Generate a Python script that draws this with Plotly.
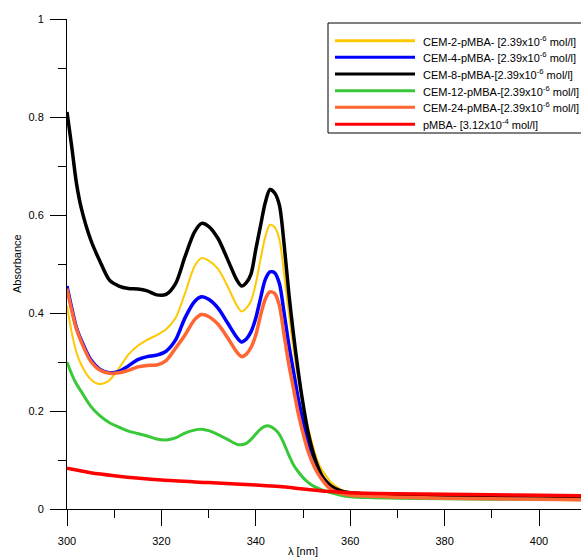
import plotly.graph_objects as go

wavelength = [300, 301, 302, 303, 305, 307, 309, 311, 313, 315, 317, 319, 321, 323, 325, 327, 328.5,
              330, 332, 334, 336, 337, 338, 339, 340, 341, 342, 343, 344, 345, 346, 347, 348, 349,
              350, 351, 352, 353, 354, 355, 356, 358, 360, 365, 370, 380, 390, 400, 409]

cem2 = [0.415, 0.36, 0.32, 0.295, 0.265, 0.255, 0.263, 0.287, 0.315, 0.333, 0.345, 0.355, 0.367, 0.39,
        0.44, 0.495, 0.512, 0.507, 0.49, 0.455, 0.415, 0.403, 0.41, 0.425, 0.46, 0.51, 0.555, 0.58,
        0.575, 0.55, 0.48, 0.40, 0.325, 0.265, 0.215, 0.17, 0.132, 0.10, 0.08, 0.066, 0.054, 0.04,
        0.033, 0.029, 0.027, 0.025, 0.024, 0.023, 0.022]
cem4 = [0.455, 0.41, 0.37, 0.345, 0.305, 0.285, 0.278, 0.281, 0.292, 0.305, 0.311, 0.314, 0.322, 0.345,
        0.39, 0.423, 0.433, 0.428, 0.41, 0.38, 0.35, 0.341, 0.347, 0.362, 0.39, 0.43, 0.468, 0.484,
        0.482, 0.46, 0.40, 0.335, 0.28, 0.225, 0.18, 0.14, 0.11, 0.085, 0.067, 0.055, 0.046, 0.036,
        0.032, 0.029, 0.027, 0.025, 0.023, 0.022, 0.021]
cem8 = [0.81, 0.74, 0.665, 0.615, 0.55, 0.505, 0.467, 0.455, 0.450, 0.449, 0.445, 0.437, 0.438, 0.46,
        0.515, 0.565, 0.583, 0.577, 0.552, 0.51, 0.467, 0.455, 0.462, 0.48, 0.53, 0.578, 0.625, 0.652,
        0.645, 0.62, 0.54, 0.44, 0.355, 0.28, 0.215, 0.16, 0.12, 0.09, 0.068, 0.055, 0.046, 0.037,
        0.033, 0.030, 0.028, 0.026, 0.025, 0.024, 0.023]
cem12 = [0.30, 0.275, 0.255, 0.24, 0.21, 0.19, 0.176, 0.167, 0.159, 0.154, 0.149, 0.143, 0.141, 0.145,
         0.155, 0.161, 0.163, 0.16, 0.152, 0.142, 0.132, 0.131, 0.134, 0.142, 0.153, 0.163, 0.169, 0.169,
         0.163, 0.152, 0.133, 0.11, 0.09, 0.076, 0.064, 0.055, 0.048, 0.043, 0.039, 0.036, 0.033, 0.028,
         0.025, 0.023, 0.022, 0.021, 0.020, 0.020, 0.019]
cem24 = [0.45, 0.405, 0.368, 0.342, 0.302, 0.283, 0.277, 0.278, 0.283, 0.29, 0.293, 0.294, 0.303, 0.328,
         0.355, 0.386, 0.397, 0.393, 0.377, 0.35, 0.32, 0.311, 0.316, 0.33, 0.355, 0.395, 0.428, 0.443,
         0.44, 0.415, 0.355, 0.295, 0.245, 0.195, 0.155, 0.12, 0.095, 0.075, 0.06, 0.048, 0.04, 0.032,
         0.028, 0.026, 0.024, 0.022, 0.021, 0.020, 0.019]

pmba_wavelength = [300, 305, 310, 320, 330, 340, 345, 350, 355, 360, 370, 380, 390, 400, 409]
pmba = [0.083, 0.074, 0.068, 0.059, 0.054, 0.049, 0.046, 0.041, 0.036, 0.033, 0.031, 0.030, 0.029, 0.028, 0.027]

series_names = [
    "CEM-2-pMBA- [2.39x10<sup>-6</sup> mol/l]",
    "CEM-4-pMBA- [2.39x10<sup>-6</sup> mol/l]",
    "CEM-8-pMBA-[2.39x10<sup>-6</sup> mol/l]",
    "CEM-12-pMBA-[2.39x10<sup>-6</sup> mol/l]",
    "CEM-24-pMBA-[2.39x10<sup>-6</sup> mol/l]",
    "pMBA- [3.12x10<sup>-4</sup> mol/l]",
]
x_tick_values = [300, 320, 340, 360, 380, 400]
y_tick_values = [0, 0.2, 0.4, 0.6, 0.8, 1]

series_x = [wavelength, wavelength, wavelength, wavelength, wavelength, pmba_wavelength]
series_y = [cem2, cem4, cem8, cem12, cem24, pmba]
colors = ["#FFC800", "#0000FF", "#000000", "#38C838", "#FF6633", "#FF0000"]
widths = [2, 3.5, 3.5, 3, 3.5, 3.5]

FONT = "Liberation Sans, Arial, sans-serif"
W, H = 581, 558
ML, MR, MT, MB = 67, 0, 19, 49
PW = W - ML - MR
PH = H - MT - MB

fig = go.Figure()
for xs, ys, c, w, n in zip(series_x, series_y, colors, widths, series_names):
    fig.add_trace(go.Scatter(x=xs, y=ys, mode="lines", name=n, showlegend=False,
                             line=dict(color=c, width=w, shape="spline", smoothing=0.8)))


def px2paper_x(p):
    return (p - ML) / PW


def px2paper_y(p):
    return (H - MB - p) / PH


shapes = [dict(type="rect", xref="paper", yref="paper",
               x0=px2paper_x(328), x1=1.02, y0=px2paper_y(133), y1=px2paper_y(23),
               line=dict(color="black", width=1), fillcolor="white", layer="above")]
annotations = []
row_y = [40.7, 57.3, 74.0, 90.7, 107.3, 124.3]
for i, (n, c) in enumerate(zip(series_names, colors)):
    yy = px2paper_y(row_y[i])
    shapes.append(dict(type="line", xref="paper", yref="paper",
                       x0=px2paper_x(335), x1=px2paper_x(415), y0=yy, y1=yy,
                       line=dict(color=c, width=3), layer="above"))
    annotations.append(dict(xref="paper", yref="paper", x=px2paper_x(421), y=yy,
                            xanchor="left", yanchor="middle", text=n, showarrow=False,
                            font=dict(family=FONT, size=11, color="black")))

annotations.append(dict(xref="x", yref="paper", x=350, y=px2paper_y(551), text="λ [nm]",
                        showarrow=False, xanchor="center", yanchor="middle",
                        font=dict(family=FONT, size=11, color="black")))
annotations.append(dict(xref="paper", yref="paper", x=px2paper_x(17), y=0.5, text="Absorbance",
                        textangle=-90, showarrow=False, xanchor="center", yanchor="middle",
                        font=dict(family=FONT, size=11, color="black")))

fig.update_layout(
    width=W, height=H,
    margin=dict(l=ML, r=MR, t=MT, b=MB, pad=0),
    paper_bgcolor="white", plot_bgcolor="white",
    font=dict(family=FONT, size=11, color="black"),
    shapes=shapes, annotations=annotations,
    showlegend=False,
)
fig.update_xaxes(range=[300, 300 + PW / 4.72], showgrid=False, zeroline=False,
                 showline=True, linecolor="black", linewidth=1,
                 ticks="outside", ticklen=16, tickwidth=1, tickcolor="black",
                 tickvals=x_tick_values, ticklabelstandoff=6,
                 minor=dict(ticks="outside", ticklen=8, tickwidth=1, tickcolor="black", dtick=10, tick0=300, showgrid=False),
                 tickfont=dict(family=FONT, size=11, color="black"))
fig.update_yaxes(range=[0, 1], showgrid=False, zeroline=False,
                 showline=True, linecolor="black", linewidth=1,
                 ticks="outside", ticklen=16, tickwidth=1, tickcolor="black",
                 tickvals=y_tick_values, ticklabelstandoff=4,
                 minor=dict(ticks="outside", ticklen=8, tickwidth=1, tickcolor="black", dtick=0.1, tick0=0, showgrid=False),
                 tickfont=dict(family=FONT, size=11, color="black"))

fig.write_html("out.html", config={"displayModeBar": False},
               post_script="document.body.style.margin='0';document.body.style.overflow='hidden';")
